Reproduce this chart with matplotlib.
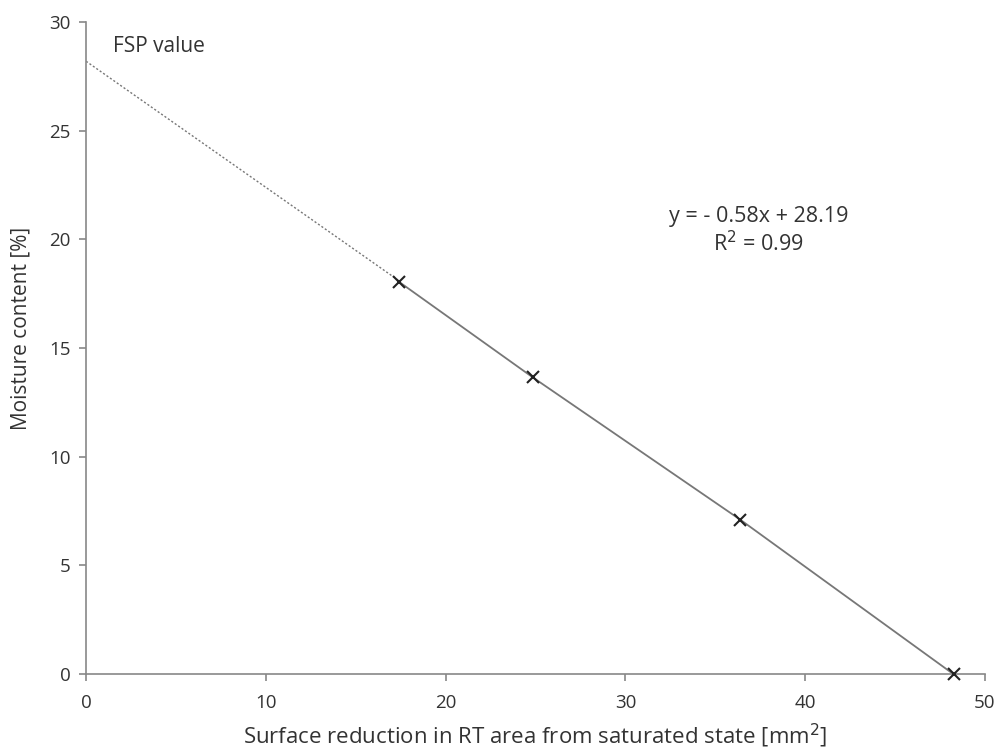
import matplotlib.pyplot as plt

plt.rcParams['font.family'] = ['Open Sans', 'DejaVu Sans']

# measured points: surface reduction [mm2] vs moisture content [%]
surface_reduction = [17.4, 24.85, 36.4, 48.25]
moisture_content = [18.05, 13.65, 7.1, 0.0]

# trendline coefficients as printed on the chart
slope = -0.58
intercept = 28.19

fig = plt.figure(figsize=(10.01, 7.55), dpi=100)
ax = fig.add_axes([0.086, 0.107, 0.898, 0.864])

# dotted extrapolation of the trend back to zero
x_ext = [0, surface_reduction[0]]
y_ext = [intercept + slope * v for v in x_ext]
ax.plot(x_ext, y_ext, linestyle=(0, (1.5, 1.5)), color='#777777', linewidth=1.0)

ax.plot(surface_reduction, moisture_content, color='#777777', linewidth=1.3)
ax.plot(surface_reduction, moisture_content, linestyle='none', marker='x',
        markersize=8, markeredgewidth=1.5, color='#222222', clip_on=False, zorder=5)

ax.set_xlim(0, 50)
ax.set_ylim(0, 30)
ax.set_xticks(range(0, 51, 10))
ax.set_yticks(range(0, 31, 5))

for side in ['top', 'right']:
    ax.spines[side].set_visible(False)
for side in ['left', 'bottom']:
    ax.spines[side].set_color('#888888')
    ax.spines[side].set_linewidth(1.2)
ax.tick_params(colors='#888888', labelcolor='#333333', labelsize=13.5, length=5, width=1.2)
ax.tick_params(axis='x', pad=9)
ax.tick_params(axis='y', pad=6)

ax.set_xlabel('Surface reduction in RT area from saturated state [mm$^2$]', fontsize=16, color='#333333', labelpad=7)
ax.set_ylabel('Moisture content [%]', fontsize=15, color='#333333')
ax.yaxis.set_label_coords(-0.061, 0.53)

ax.text(1.5, 28.4, 'FSP value', fontsize=15, color='#333333', va='bottom')
ax.text(37.4, 20.4, 'y = - 0.58x + 28.19\nR$^2$ = 0.99', fontsize=15.5, color='#333333',
        ha='center', va='center', linespacing=1.2)

fig.savefig('out.png', dpi=100)
